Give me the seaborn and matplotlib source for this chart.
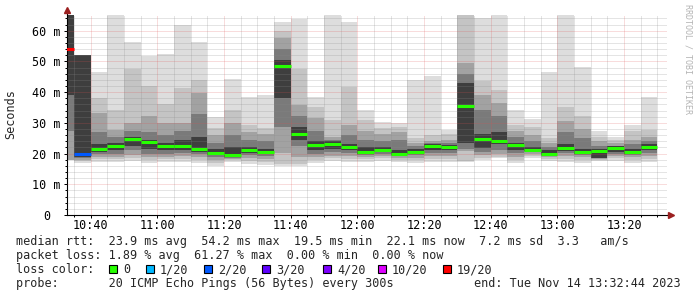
import matplotlib
matplotlib.use("Agg")
import matplotlib.pyplot as plt
import matplotlib.dates as mdates
from matplotlib.ticker import MultipleLocator, FixedLocator
from matplotlib.patches import Rectangle
from matplotlib.transforms import ScaledTranslation
import numpy as np
import pandas as pd
import seaborn as sns

# ---------------- data ----------------
bar_end = ["10:35", "10:40", "10:45", "10:50", "10:55", "11:00", "11:05", "11:10", "11:15", "11:20",
           "11:25", "11:30", "11:35", "11:40", "11:45", "11:50", "11:55", "12:00", "12:05", "12:10",
           "12:15", "12:20", "12:25", "12:30", "12:35", "12:40", "12:45", "12:50", "12:55", "13:00",
           "13:05", "13:10", "13:15", "13:20", "13:25", "13:30"]

ping_max = [65.2, 52.2, 46.7, 65.2, 56.2, 51.6, 52.5, 62.0, 56.2, 31.8,
            44.3, 38.4, 39.1, 62.8, 63.9, 38.4, 65.2, 62.8, 34.2, 30.4,
            29.9, 44.0, 45.4, 27.7, 65.2, 64.1, 65.2, 34.2, 31.3, 46.7,
            65.2, 48.1, 27.2, 25.5, 29.3, 38.3]
smoke_hi2 = [65.2, 52.2, 38.0, 34.2, 47.5, 42.1, 36.1, 41.5, 44.0, 28.3,
             34.2, 29.3, 28.3, 59.8, 47.5, 35.3, 31.0, 41.8, 31.0, 28.3,
             28.5, 25.0, 26.1, 26.5, 65.2, 43.5, 40.8, 29.3, 28.6, 25.0,
             35.3, 32.1, 25.5, 24.5, 27.2, 27.7]
smoke_hi3 = [65.2, 52.2, 33.1, 27.7, 29.9, 32.1, 29.9, 29.9, 39.7, 26.0,
             29.9, 27.0, 26.5, 57.6, 35.9, 31.5, 25.5, 29.3, 27.2, 26.5,
             27.0, 23.5, 24.0, 24.5, 49.5, 39.1, 36.4, 27.5, 26.0, 23.5,
             30.5, 28.0, 24.0, 23.5, 24.5, 25.5]
smoke_hi4 = [65.2, 52.2, 27.0, 25.5, 27.5, 27.0, 26.0, 27.5, 33.0, 23.5,
             26.1, 24.5, 24.0, 54.0, 32.1, 27.5, 24.5, 26.0, 24.5, 24.0,
             24.5, 22.5, 23.5, 23.5, 46.0, 34.2, 32.1, 25.5, 24.0, 22.0,
             27.0, 25.0, 22.5, 22.5, 23.0, 24.0]
smoke_hi5 = [65.2, 52.2, 23.0, 23.5, 25.5, 24.5, 23.5, 24.5, 25.5, 21.5,
             22.0, 22.0, 21.5, 50.5, 28.5, 24.0, 24.0, 23.0, 22.0, 22.0,
             21.0, 21.5, 23.0, 22.8, 43.0, 26.5, 27.0, 23.5, 22.0, 21.0,
             23.0, 21.5, 21.5, 22.3, 21.5, 23.0]
median_rtt = [54.1, 19.7, 21.6, 22.3, 24.6, 23.6, 22.3, 22.6, 21.4, 20.3,
              19.5, 21.1, 20.5, 48.4, 26.4, 22.8, 23.2, 22.1, 20.4, 21.2,
              19.9, 20.5, 22.3, 22.0, 35.4, 24.9, 24.2, 22.9, 21.1, 19.7,
              21.7, 20.6, 20.8, 21.7, 20.6, 22.2]
smoke_lo5 = [39.0, 19.0, 20.5, 21.0, 22.5, 21.5, 21.0, 21.2, 20.5, 19.5,
             19.0, 20.2, 19.8, 38.0, 24.5, 21.2, 21.5, 21.0, 19.8, 20.5,
             19.5, 20.0, 21.0, 21.0, 23.4, 21.7, 23.0, 21.2, 20.8, 19.4,
             20.8, 20.0, 18.6, 20.5, 20.0, 21.0]
smoke_lo4 = [27.2, 18.5, 19.8, 20.0, 21.0, 20.0, 20.0, 20.2, 19.8, 18.8,
             18.6, 19.5, 19.2, 28.8, 22.3, 20.0, 20.5, 20.3, 19.5, 20.0,
             19.2, 19.5, 20.3, 20.3, 21.5, 20.5, 21.0, 20.2, 20.5, 19.2,
             20.2, 19.6, 18.4, 20.0, 19.6, 20.3]
smoke_lo3 = [17.9, 18.0, 19.0, 19.0, 19.5, 18.8, 19.0, 19.2, 18.8, 18.0,
             18.2, 18.5, 18.2, 20.1, 19.0, 18.8, 19.3, 19.2, 18.8, 19.2,
             18.6, 18.6, 19.2, 19.2, 20.9, 19.5, 20.0, 19.0, 19.8, 18.8,
             19.2, 18.8, 18.2, 19.2, 18.8, 19.2]
smoke_lo2 = [17.9, 17.5, 18.2, 18.2, 18.5, 18.0, 18.3, 18.3, 18.0, 17.0,
             17.8, 17.5, 17.2, 16.5, 16.5, 17.8, 18.5, 18.3, 18.2, 18.5,
             18.0, 17.8, 18.3, 18.3, 17.6, 18.6, 19.0, 18.0, 19.2, 18.3,
             18.3, 17.8, 18.0, 18.5, 18.0, 18.3]
ping_min = [17.9, 16.9, 17.4, 17.4, 17.7, 17.0, 17.4, 17.4, 17.0, 16.0,
            17.4, 16.5, 16.2, 16.1, 15.8, 16.8, 17.7, 17.4, 17.4, 17.7,
            17.4, 16.8, 17.4, 17.4, 17.4, 17.9, 18.4, 17.0, 18.5, 17.7,
            17.4, 16.8, 17.6, 17.7, 17.0, 17.4]
loss = ["19/20", "2/20", "0", "0", "0", "0", "0", "0", "0", "0",
        "0", "0", "0", "0", "0", "0", "0", "0", "0", "0",
        "0", "0", "0", "0", "0", "0", "0", "0", "0", "0",
        "0", "0", "0", "0", "0", "0"]

loss_labels = ["0", "1/20", "2/20", "3/20", "4/20", "10/20", "19/20"]
loss_colors = ["#26ff00", "#00b8ff", "#0059ff", "#5e00ff", "#7e00ff", "#dd00ff", "#ff0000"]
y_ticks = [0, 10, 20, 30, 40, 50, 60]
y_labels = ["0", "10 m", "20 m", "30 m", "40 m", "50 m", "60 m"]

legend_rows = [
    "median rtt:  23.9 ms avg  54.2 ms max  19.5 ms min  22.1 ms now  7.2 ms sd  3.3   am/s",
    "packet loss: 1.89 % avg  61.27 % max  0.00 % min  0.00 % now",
]
probe_text = "probe:       20 ICMP Echo Pings (56 Bytes) every 300s"
end_text = "end: Tue Nov 14 13:32:44 2023"

# ---------------- figure ----------------
sns.set_theme(style="white")
plt.rcParams['font.family'] = ['DejaVu Sans Mono', 'DejaVu Sans']

W, H = 697, 297
fig = plt.figure(figsize=(W / 100, H / 100), dpi=100)
fig.patch.set_facecolor("white")
ax = fig.add_axes([66.5 / W, 1 - 215 / H, 600 / W, 200 / H])
ax.set_facecolor("white")

df = pd.DataFrame({
    "end": pd.to_datetime(["2023-11-14 " + t for t in bar_end]),
    "pmin": ping_min, "lo2": smoke_lo2, "lo3": smoke_lo3, "lo4": smoke_lo4, "lo5": smoke_lo5,
    "med": median_rtt,
    "hi5": smoke_hi5, "hi4": smoke_hi4, "hi3": smoke_hi3, "hi2": smoke_hi2, "pmax": ping_max,
    "loss": loss,
})
df["start"] = df["end"] - pd.Timedelta(minutes=5)
xs = mdates.date2num(df["start"])
w = 5 / 1440.0

bands = [("pmin", "pmax"), ("lo2", "hi2"), ("lo3", "hi3"), ("lo4", "hi4"), ("lo5", "hi5")]
band_colors = ["#dddddd", "#c4c4c4", "#a2a2a2", "#7a7a7a", "#3e3e3e"]
for (lo, hi), c in zip(bands, band_colors):
    ax.bar(xs, df[hi] - df[lo], bottom=df[lo], width=w, align="edge",
           color=c, linewidth=0, zorder=1)

cmap = dict(zip(loss_labels, loss_colors))
ax.hlines(df["med"], xs, xs + w, colors=[cmap[l] for l in df["loss"]],
          linewidth=2.2, zorder=3, capstyle="butt")

t0 = mdates.date2num(pd.Timestamp("2023-11-14 10:32:44"))
t1 = mdates.date2num(pd.Timestamp("2023-11-14 13:32:44"))
ax.set_xlim(t0, t1)
ax.set_ylim(0, 65.1)

ax.xaxis.set_major_locator(mdates.MinuteLocator(byminute=[0, 20, 40]))
ax.xaxis.set_minor_locator(mdates.MinuteLocator(byminute=range(0, 60, 5)))
ax.xaxis.set_major_formatter(mdates.DateFormatter("%H:%M"))
ax.yaxis.set_major_locator(FixedLocator(y_ticks))
ax.set_yticklabels(y_labels)
ax.yaxis.set_minor_locator(MultipleLocator(2))

ax.set_axisbelow(False)
ax.grid(which="minor", color="#8a8a8a", alpha=0.45, linestyle=(0, (1, 1)), linewidth=0.72)
ax.grid(which="major", color="#e05050", alpha=0.4, linestyle=(0, (1, 1)), linewidth=0.72)

for s in ["top", "right"]:
    ax.spines[s].set_visible(False)
for s in ["left", "bottom"]:
    ax.spines[s].set_color("black")
    ax.spines[s].set_linewidth(0.8)

ax.tick_params(axis="both", which="both", direction="out", colors="black",
               bottom=True, left=True, width=0.72, labelsize=8.5)
ax.tick_params(axis="x", which="major", length=2.2, pad=1.0)
ax.tick_params(axis="x", which="minor", length=1.5)
ax.tick_params(axis="y", which="major", length=2.2, pad=2.2)
ax.tick_params(axis="y", which="minor", length=1.5)

# shift "0" label like the reference
lab0 = ax.yaxis.get_major_ticks()[0].label1
lab0.set_transform(lab0.get_transform() + ScaledTranslation(-10 / 100, 0, fig.dpi_scale_trans))

# axis arrows
ax.plot([0, 0], [1, 1.02], transform=ax.transAxes, color="black", lw=0.8, clip_on=False)
ax.plot([0], [1.025], transform=ax.transAxes, marker="^", ms=4.5, color="#9b2020",
        clip_on=False, zorder=5)
ax.plot([1, 1.004], [0, 0], transform=ax.transAxes, color="black", lw=0.8, clip_on=False)
ax.plot([1.007], [0], transform=ax.transAxes, marker=">", ms=4.5, color="#9b2020",
        clip_on=False, zorder=5)

def fx(x):
    return x / W

def fy(y):
    return 1 - y / H

fig.text(fx(10.5), fy(114), "Seconds", rotation=90, ha="center", va="center", fontsize=8.5)
fig.text(fx(688), fy(4), "RRDTOOL / TOBI OETIKER", rotation=270, ha="center", va="top",
         fontsize=6, color="#b4b4b4")

fig.text(fx(16), fy(245.3), legend_rows[0], fontsize=8.5, va="baseline", ha="left")
fig.text(fx(16), fy(259.3), legend_rows[1], fontsize=8.5, va="baseline", ha="left")
fig.text(fx(16), fy(273.3), "loss color:", fontsize=8.5, va="baseline", ha="left")
box_x = [109, 146, 204, 262, 323, 378, 443]
for bx, lab, col in zip(box_x, loss_labels, loss_colors):
    fig.patches.append(Rectangle((fx(bx), fy(272.5)), 7.5 / W, 7.5 / H, transform=fig.transFigure,
                                 facecolor=col, edgecolor="black", linewidth=0.8))
    fig.text(fx(bx + 14), fy(273.3), lab, fontsize=8.5, va="baseline", ha="left")
fig.text(fx(16), fy(287.3), probe_text, fontsize=8.5, va="baseline", ha="left")
fig.text(fx(681), fy(287.3), end_text, fontsize=8.5, va="baseline", ha="right")

fig.savefig("out.png", dpi=100, facecolor="white")
